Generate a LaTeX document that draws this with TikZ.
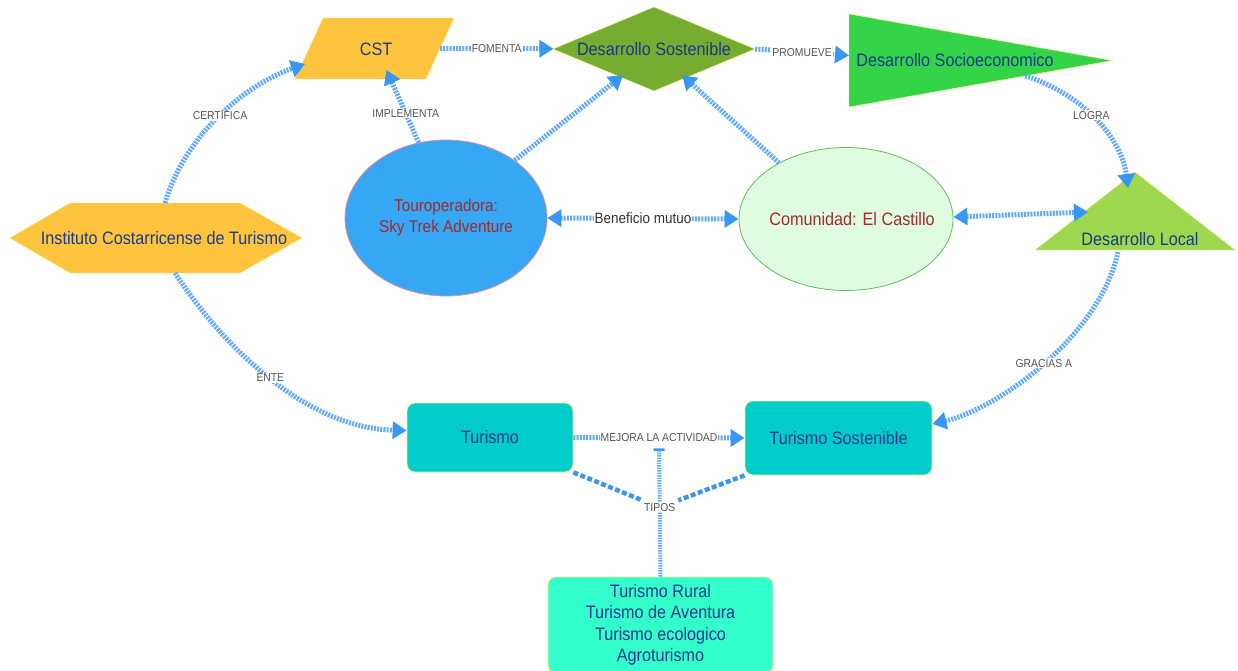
\documentclass[tikz,border=0pt]{standalone}
\usepackage{fontspec}
\setmainfont{Liberation Sans}[FakeStretch=0.9]
\usepackage{xcolor}
\usepackage{tikz}
\usetikzlibrary{shapes.geometric,arrows.meta,calc}
\definecolor{linkc}{HTML}{62AAFF}
\definecolor{tipc}{HTML}{3A96F5}
\definecolor{navy}{HTML}{1B3A8C}
\definecolor{rust}{HTML}{A52A2A}
\definecolor{labc}{HTML}{555555}
\definecolor{cAmber}{HTML}{FFC43D}
\definecolor{cOlive}{HTML}{76AC2F}
\definecolor{cLime}{HTML}{33D447}
\definecolor{cPale}{HTML}{9ED84F}
\definecolor{cSky}{HTML}{35A7F5}
\definecolor{cPink}{HTML}{E88C9A}
\definecolor{cMint}{HTML}{E0FCE0}
\definecolor{cRing}{HTML}{5CBF5C}
\definecolor{cTeal}{HTML}{00CCCC}
\definecolor{cAqua}{HTML}{33FFCC}
\definecolor{rim}{HTML}{F2F080}
\newcommand\bigsize{\fontsize{18}{21.5}\selectfont}
\tikzset{
  bigtri/.tip={Triangle[length=14pt,width=17pt,color=tipc]},
  link/.style={draw=linkc, line width=5pt, dash pattern=on 2pt off 1.2pt, -bigtri},
  both/.style={link, bigtri-bigtri},
  stem/.style={draw=linkc, line width=4pt, dash pattern=on 1.5pt off 1pt, {Bar[width=11pt,line width=2.5pt,color=tipc]}-},
  fork/.style={draw=tipc, line width=4.5pt, dash pattern=on 5pt off 2.5pt},
  elab/.style={fill=white, text=labc, font=\fontsize{11.5}{12}\selectfont, inner sep=1pt},
  blab/.style={fill=white, text=black!80, font=\fontsize{15}{16}\selectfont, inner sep=1pt},
  txt/.style={text=navy, font=\bigsize},
  hold/.style={rectangle, inner sep=0pt, outer sep=0pt},
  box/.style={rectangle, rounded corners=8pt, draw=rim, line width=0.8pt, fill=cTeal, txt}
}

\begin{document}
\begin{tikzpicture}[x=1pt, y=-1pt]
  \useasboundingbox (0,0) rectangle (1238,671);

  % shapes
  \node[hold, minimum width=159, minimum height=61] (cst) at (374.5,48.5) {};
  \filldraw[draw=rim, fill=cAmber] (cst.south west) -- ($(cst.north west)+(28,0)$) -- (cst.north east) -- ($(cst.south east)+(-28,0)$) -- cycle;
  \node[txt] (csttxt) at (376,49) {CST};
  \node[diamond, aspect=2.4, minimum width=202, minimum height=84, inner sep=0pt, fill=cOlive, draw=rim, txt] (sost) at (654,49) {Desarrollo Sostenible};
  \node[hold, minimum width=263, minimum height=93] (socio) at (980.5,60.5) {};
  \filldraw[draw=rim, fill=cLime] (socio.north west) -- (socio.east) -- (socio.south west) -- cycle;
  \node[txt] (sociotxt) at (955,60) {Desarrollo Socioeconomico};
  \node[hold, minimum width=200, minimum height=78] (local) at (1135,211) {};
  \filldraw[draw=rim, fill=cPale] (local.south west) -- (local.north) -- (local.south east) -- cycle;
  \node[txt] (localtxt) at (1140,239) {Desarrollo Local};
  \node[hold, minimum width=292, minimum height=70] (ict) at (156,238) {};
  \filldraw[draw=rim, fill=cAmber] (ict.west) -- ($(ict.north west)+(60,0)$) -- ($(ict.north east)+(-62,0)$) -- (ict.east)
    -- ($(ict.south east)+(-62,0)$) -- ($(ict.south west)+(60,0)$) -- cycle;
  \node[txt] (icttxt) at (164,238) {Instituto Costarricense de Turismo};
  \node[ellipse, minimum width=202, minimum height=156, fill=cSky, draw=cPink, line width=0.8pt, text=rust, font=\fontsize{17}{21}\selectfont, align=center] (tour) at (446,218) {Touroperadora:\\Sky Trek Adventure};
  \node[ellipse, minimum width=214, minimum height=143, inner xsep=-15pt, inner ysep=0pt, fill=cMint, draw=cRing, line width=0.8pt, text=rust, font=\bigsize] (comu) at (846,219) {\hspace*{12pt}Comunidad: El Castillo};
  \node[box, minimum width=166, minimum height=69] (tur) at (490,437.5) {Turismo};
  \node[box, minimum width=187, minimum height=74] (turs) at (838.5,438) {Turismo Sostenible};
  \node[box, fill=cAqua, minimum width=225, minimum height=96, align=center] (tipbox) at (660.5,625) {Turismo Rural\\Turismo de Aventura\\Turismo ecologico\\Agroturismo};

  % links
  \draw[link] ($(cst.east)+(-14,0)$) -- node[elab] {FOMENTA} (sost);
  \draw[link] (sost.east) -- node[elab] {PROMUEVE} ([yshift=5pt]socio.west);
  \draw[link] ($(socio.east)!0.33!(socio.south west)$) .. controls (1085,95) and (1122,140) .. ($(local.north)+(-7,16)$) node[elab, pos=0.45] {LOGRA};
  \draw[link] ($(local.south)+(-17,2)$) .. controls (1100,335) and (1000,408) .. ([yshift=14pt]turs.east) node[elab, pos=0.5] {GRACIAS A};
  \draw[link] ([xshift=9pt]ict.north) .. controls (185,135) and (245,85) .. ($(cst.south west)+(10,-15)$) node[elab, pos=0.5] {CERTIFICA};
  \draw[link] ([xshift=19pt]ict.south) .. controls (222,345) and (305,428) .. ([yshift=7pt]tur.west) node[elab, pos=0.5] {ENTE};
  \draw[link] (tour.110) -- node[elab, pos=0.4] {IMPLEMENTA} ([xshift=12pt,yshift=9pt]cst.south);
  \draw[link] (tour.40) -- ($(sost.south)+(-31,-16)$);
  \draw[link] (comu.140) -- ($(sost.south)+(28,-16)$);
  \draw[both] (tour.east) -- node[blab] {Beneficio mutuo} (comu.west);
  \draw[both] ([yshift=2pt]comu.east) -- ($(local.south west)+(53,-38)$);
  \draw[link] (tur.east) -- node[elab] (mejora) {MEJORA LA ACTIVIDAD} (turs.west);

  % tipos
  \draw[stem] ([yshift=-3pt]mejora.south) -- node[elab, pos=0.46] (tipos) {TIPOS} (tipbox.north);
  \draw[fork] (tur.south east) -- (tipos);
  \draw[fork] (turs.south west) -- (tipos);
\end{tikzpicture}
\end{document}
